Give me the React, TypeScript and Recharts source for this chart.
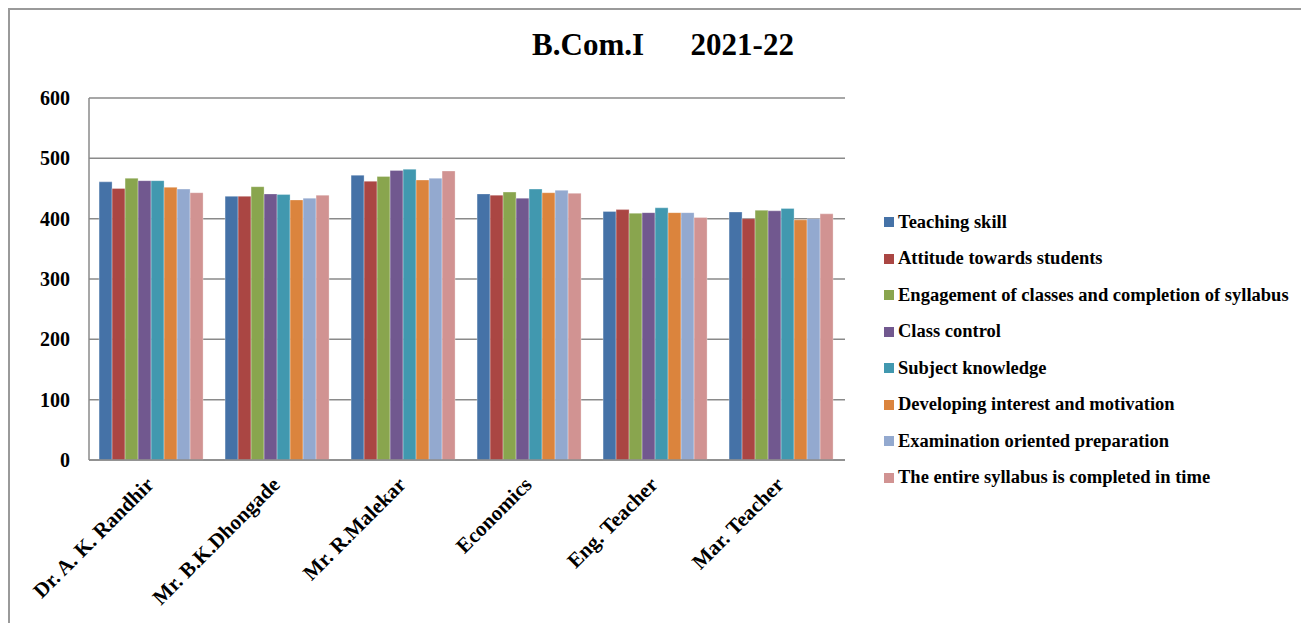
import React from "react";
import { BarChart, Bar, XAxis, YAxis, CartesianGrid } from "recharts";

const categories = ["Dr. A. K. Randhir", "Mr. B.K.Dhongade", "Mr. R.Malekar", "Economics", "Eng. Teacher", "Mar. Teacher"];

const teachingSkill = [461, 437, 472, 441, 412, 411];
const attitudeTowardsStudents = [450, 437, 462, 439, 415, 400];
const engagementOfClasses = [467, 453, 470, 444, 409, 414];
const classControl = [463, 441, 480, 434, 410, 413];
const subjectKnowledge = [463, 440, 482, 449, 418, 417];
const developingInterest = [452, 431, 464, 443, 410, 398];
const examinationPreparation = [449, 434, 467, 447, 410, 400];
const syllabusCompleted = [443, 439, 479, 442, 402, 408];

const seriesNames = [
  "Teaching skill",
  "Attitude towards students",
  "Engagement of classes and completion of syllabus",
  "Class control",
  "Subject knowledge",
  "Developing interest and motivation",
  "Examination oriented preparation",
  "The entire syllabus is completed in time",
];
const seriesValues = [
  teachingSkill,
  attitudeTowardsStudents,
  engagementOfClasses,
  classControl,
  subjectKnowledge,
  developingInterest,
  examinationPreparation,
  syllabusCompleted,
];
const seriesColors = ["#4572A7", "#AA4643", "#89A54E", "#71588F", "#4198AF", "#DB843D", "#93A9CF", "#D19392"];
const yTicks = [0, 100, 200, 300, 400, 500, 600];

const data = categories.map((name, i) => {
  const row: any = { name };
  seriesNames.forEach((s, j) => {
    row["s" + j] = seriesValues[j][i];
  });
  return row;
});

const FONT = "'Liberation Serif', 'Times New Roman', serif";
const GRID = "#8a8a8a";

const XTick = (props: any) => {
  const { x, y, payload } = props;
  return (
    <g transform={`translate(${x + 3},${y + 18})`}>
      <text x={0} y={0} textAnchor="end" transform="rotate(-45)" fill="#000" fontSize={21} fontWeight="bold" fontFamily={FONT}>
        {payload.value}
      </text>
    </g>
  );
};

export default function App() {
  return (
    <div style={{ position: "relative", width: 1301, height: 615, overflow: "hidden", background: "#fff" }}>
      <div style={{ position: "absolute", left: 0, top: 0, width: 1400, height: 700, borderLeft: "2px solid #9a9a9a", borderTop: "2px solid #9a9a9a" }} />
      <div
        style={{
          position: "absolute",
          left: 405,
          top: 19,
          width: 500,
          textAlign: "center",
          whiteSpace: "pre",
          fontFamily: FONT,
          fontWeight: "bold",
          fontSize: 31,
          color: "#000",
        }}
      >
        {"B.Com.I      2021-22"}
      </div>
      <div style={{ position: "absolute", left: 0, top: 0 }}>
        <BarChart
          width={1301}
          height={615}
          data={data}
          margin={{ top: 90, right: 464, bottom: 13, left: 21 }}
          barCategoryGap="8%"
          barGap={0}
        >
          <CartesianGrid vertical={false} stroke={GRID} strokeWidth={1.5} />
          <XAxis
            dataKey="name"
            height={150}
            interval={0}
            tickLine={false}
            axisLine={{ stroke: GRID, strokeWidth: 1.5 }}
            tick={<XTick />}
          />
          <YAxis
            width={60}
            domain={[0, 600]}
            ticks={yTicks}
            interval={0}
            tickLine={false}
            tickMargin={13}
            axisLine={{ stroke: GRID, strokeWidth: 1.5 }}
            tick={{ fill: "#000", fontSize: 20, fontWeight: "bold", fontFamily: FONT }}
          />
          {seriesNames.map((s, j) => (
            <Bar key={s} dataKey={"s" + j} name={s} fill={seriesColors[j]} stroke="#ffffff" strokeOpacity={0.5} strokeWidth={0.6} isAnimationActive={false} />
          ))}
        </BarChart>
      </div>
      <div style={{ position: "absolute", left: 876, top: 0 }}>
        {seriesNames.map((s, j) => (
          <div
            key={s}
            style={{
              position: "absolute",
              left: 0,
              top: 214 + j * 36.5 - 11,
              height: 22,
              display: "flex",
              alignItems: "center",
              whiteSpace: "nowrap",
            }}
          >
            <span style={{ display: "inline-block", width: 10, height: 10, background: seriesColors[j], marginRight: 4 }} />
            <span style={{ fontFamily: FONT, fontWeight: "bold", fontSize: 18.5, color: "#000" }}>{s}</span>
          </div>
        ))}
      </div>
    </div>
  );
}
